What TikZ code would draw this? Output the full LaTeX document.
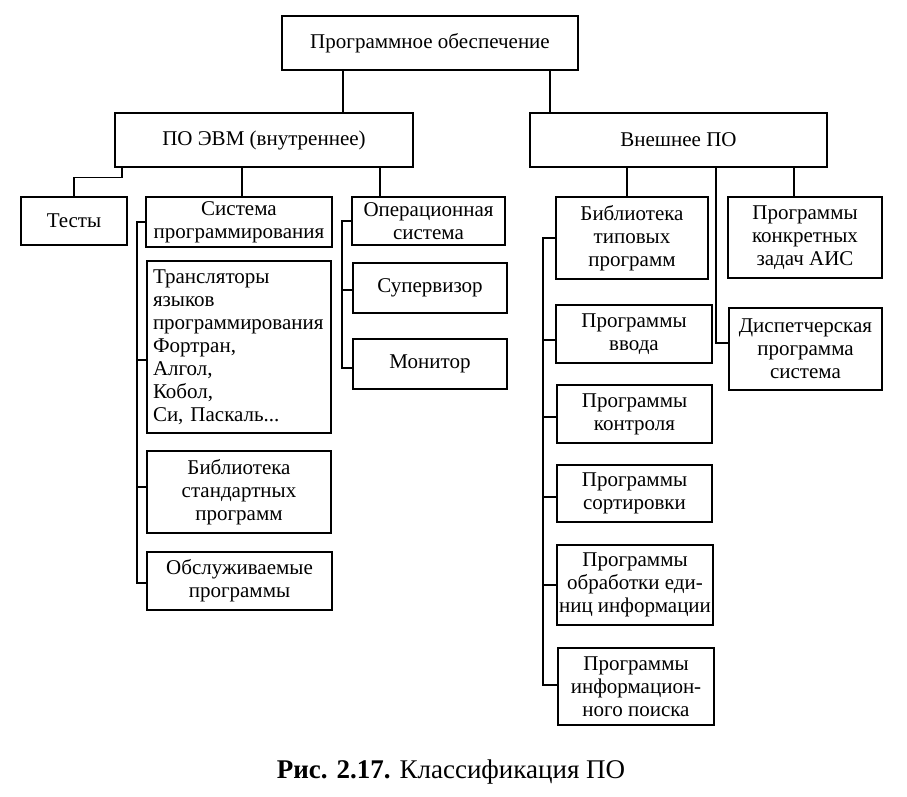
\documentclass[tikz,border=0pt]{standalone}
\usepackage{fontspec}
\setmainfont{Liberation Serif}
\usepackage{tikz}
\tikzset{box/.style={draw,line width=1.3pt,inner sep=1pt,align=center,
           font=\fontsize{21}{23}\selectfont},
         line/.style={line width=1.3pt}}

\begin{document}
\begin{tikzpicture}[x=1pt,y=-1pt]
\path[use as bounding box] (0,0) rectangle (907,797);
\node[box,minimum width=296pt,minimum height=54pt](top) at (430,43){Программное обеспечение};
\node[box,minimum width=298pt,minimum height=54pt](evm) at (264,140){ПО ЭВМ (внутреннее)};
\node[box,minimum width=297pt,minimum height=54pt](ext) at (678.5,140){Внешнее ПО};
% left branch
\node[box,minimum width=106pt,minimum height=48pt](tests) at (74,221){Тесты};
\node[box,minimum width=186pt,minimum height=50pt](sysprog) at (239,222){Система\\программирования};
\node[box,minimum width=153pt,minimum height=48pt](opsys) at (428.5,221){Операционная\\система};
\node[box,minimum width=184pt,minimum height=172pt,text width=172pt,align=left](transl) at (239,347)
  {Трансляторы\\языков\\программирования\\Фортран,\\Алгол,\\Кобол,\\Си, Паскаль...};
\node[box,minimum width=184pt,minimum height=82pt](stdlib) at (239,492){Библиотека\\стандартных\\программ};
\node[box,minimum width=185pt,minimum height=58pt](serv) at (239.5,581){Обслуживаемые\\программы};
\node[box,minimum width=154pt,minimum height=50pt](super) at (430,288){Супервизор};
\node[box,minimum width=154pt,minimum height=50pt](monitor) at (430,364){Монитор};
% right branch
\node[box,minimum width=152pt,minimum height=82pt](typlib) at (632,238){Библиотека\\типовых\\программ};
\node[box,minimum width=154pt,minimum height=81pt](concrete) at (805,237.5){Программы\\конкретных\\задач АИС};
\node[box,minimum width=153pt,minimum height=82pt](disp) at (805.5,349){Диспетчерская\\программа\\система};
\node[box,minimum width=156pt,minimum height=58pt](input) at (634,334){Программы\\ввода};
\node[box,minimum width=155pt,minimum height=58pt](control) at (634.5,414){Программы\\контроля};
\node[box,minimum width=155pt,minimum height=57pt](sort) at (634.5,493.5){Программы\\сортировки};
\node[box,minimum width=156pt,minimum height=80pt](proc) at (635,585){Программы\\обработки еди-\\ниц информации};
\node[box,minimum width=156pt,minimum height=77pt](search) at (636,686.5){Программы\\информацион-\\ного поиска};
\node[font=\fontsize{27}{30}\selectfont](caption) at (451,772){\textbf{Рис. 2.17.} Классификация ПО};
% connectors
\draw[line]([xshift=-87pt]top.south)--([xshift=79pt]evm.north);
\draw[line]([xshift=120pt]top.south)--([xshift=-128.5pt]ext.north);
\draw[line]([xshift=-142pt]evm.south)--++(0,10)-|(tests.north);
\draw[line]([xshift=-22pt]evm.south)--([xshift=3pt]sysprog.north);
\draw[line]([xshift=116pt]evm.south)--([xshift=-48.5pt]opsys.north);
\draw[line]([xshift=-51.5pt]ext.south)--([xshift=-5pt]typlib.north);
\draw[line]([xshift=115.5pt]ext.south)--([xshift=-11pt]concrete.north);
\draw[line]([xshift=37.5pt]ext.south)|-([yshift=6pt]disp.west);
\coordinate(spL) at (137,0);
\coordinate(spO) at (342,0);
\coordinate(spE) at (543,0);
\draw[line](sysprog.west)--(sysprog.west-|spL)|-([yshift=-2pt]serv.west);
\draw[line]([yshift=-13pt]transl.west)--([yshift=-13pt]transl.west-|spL);
\draw[line]([yshift=5pt]stdlib.west)--([yshift=5pt]stdlib.west-|spL);
\draw[line](opsys.west)--(opsys.west-|spO)|-([yshift=-4pt]monitor.west);
\draw[line]([yshift=-2pt]super.west)--([yshift=-2pt]super.west-|spO);
\draw[line](typlib.west)--(typlib.west-|spE)|-([yshift=1.5pt]search.west);
\foreach \n/\s in {input/-6,control/-3,sort/-3.5,proc/0}
  \draw[line]([yshift=\s pt]\n.west)--([yshift=\s pt]\n.west-|spE);
\end{tikzpicture}
\end{document}
